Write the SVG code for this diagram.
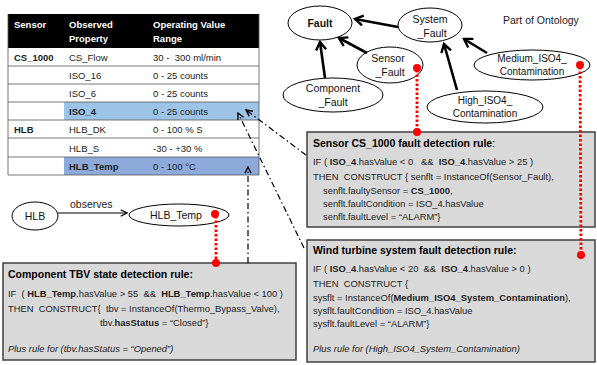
<svg xmlns="http://www.w3.org/2000/svg" width="597" height="365" viewBox="0 0 597 365">
<style>
text{font-family:"Liberation Sans",Arial,sans-serif;font-size:9.5px;fill:#222;white-space:pre}
.b{font-weight:bold}
.i{font-style:italic}
.hd{fill:#fff;font-weight:bold;font-size:9.5px}
.tl{font-size:10.5px;font-weight:bold;fill:#000}
.rl{font-size:9.4px}
.on{font-size:10.5px;text-anchor:middle;fill:#111}
.row{stroke:#555;stroke-width:0.8}
.ell{fill:#fff;stroke:#000;stroke-width:1}
.box{fill:#d9d9d9;stroke:#404040;stroke-width:1.5}
.thick{stroke:#000;stroke-width:2.6;fill:none;marker-end:url(#th)}
.dd{stroke:#000;stroke-width:1.2;fill:none;stroke-dasharray:6,3,1.5,3;marker-end:url(#da)}
.red{stroke:#f00;stroke-width:2.8;fill:none;stroke-dasharray:2.5,2}
.dot{fill:#f00}
</style>
<defs>
<marker id="th" markerUnits="userSpaceOnUse" viewBox="0 0 12 12" refX="10" refY="6" markerWidth="12" markerHeight="12" orient="auto">
<path d="M2,1 L10,6 L2,11" fill="none" stroke="#000" stroke-width="2.4"/>
</marker>
<marker id="da" markerUnits="userSpaceOnUse" viewBox="0 0 10 10" refX="9" refY="5" markerWidth="9" markerHeight="9" orient="auto">
<path d="M2,1.5 L9,5 L2,8.5" fill="none" stroke="#000" stroke-width="1.5"/>
</marker>
<marker id="ob" markerUnits="userSpaceOnUse" viewBox="0 0 10 10" refX="9" refY="5" markerWidth="9" markerHeight="9" orient="auto">
<path d="M2,1.5 L9,5 L2,8.5" fill="none" stroke="#000" stroke-width="1.3"/>
</marker>
</defs>

<g id="table">
<rect x="8" y="14" width="251" height="34" fill="#000"/>
<rect x="64" y="102" width="195" height="18" fill="#9dc3e6"/>
<rect x="64" y="157" width="195" height="18" fill="#8eaadb"/>
<text class="hd" x="14" y="28">Sensor</text>
<text class="hd" x="69" y="28">Observed</text>
<text class="hd" x="69" y="42">Property</text>
<text class="hd" x="153" y="28">Operating Value</text>
<text class="hd" x="153" y="42">Range</text>
<line class="row" x1="8" y1="66" x2="259" y2="66"/>
<line class="row" x1="8" y1="84" x2="259" y2="84"/>
<line class="row" x1="8" y1="102" x2="259" y2="102"/>
<line class="row" x1="8" y1="120" x2="259" y2="120"/>
<line class="row" x1="8" y1="138" x2="259" y2="138"/>
<line class="row" x1="8" y1="157" x2="259" y2="157"/>
<line class="row" x1="8" y1="175" x2="259" y2="175"/>
<line class="row" x1="8" y1="14" x2="8" y2="175"/>
<line class="row" x1="259" y1="14" x2="259" y2="175"/>
<text class="b" x="14" y="61">CS_1000</text>
<text x="69" y="61">CS_Flow</text>
<text x="153" y="61">30 -  300 ml/min</text>
<text x="69" y="79">ISO_16</text>
<text x="153" y="79">0 - 25 counts</text>
<text x="69" y="97">ISO_6</text>
<text x="153" y="97">0 - 25 counts</text>
<text class="b" x="69" y="115">ISO_4</text>
<text x="153" y="115">0 - 25 counts</text>
<text class="b" x="14" y="133">HLB</text>
<text x="69" y="133">HLB_DK</text>
<text x="153" y="133">0 - 100 % S</text>
<text x="69" y="152">HLB_S</text>
<text x="153" y="152">-30 - +30 %</text>
<text class="b" x="69" y="170">HLB_Temp</text>
<text x="153" y="170">0 - 100 °C</text>
</g>

<text x="503" y="24" style="font-size:10.5px">Part of Ontology</text>

<g id="Fault"><ellipse class="ell" cx="320" cy="23" rx="32" ry="17"/><text class="on b" x="320" y="27" style="font-weight:bold">Fault</text></g>
<g id="System_Fault"><ellipse class="ell" cx="430" cy="25" rx="32" ry="17"/><text class="on" x="430" y="23">System</text><text class="on" x="432" y="37">_Fault</text></g>
<g id="Sensor_Fault"><ellipse class="ell" cx="390" cy="65" rx="33" ry="18"/><text class="on" x="388" y="62">Sensor</text><text class="on" x="390" y="76">_Fault</text></g>
<g id="Component_Fault"><ellipse class="ell" cx="333" cy="95" rx="50" ry="17"/><text class="on" x="333" y="92">Component</text><text class="on" x="333" y="106">_Fault</text></g>
<g id="Medium_ISO4_Contamination"><ellipse class="ell" cx="532" cy="65" rx="58" ry="15"/><text class="on" x="532" y="62" style="font-size:10px">Medium_ISO4_</text><text class="on" x="532" y="75" style="font-size:10px">Contamination</text></g>
<g id="High_ISO4_Contamination"><ellipse class="ell" cx="485" cy="107" rx="58" ry="16"/><text class="on" x="485" y="104" style="font-size:10px">High_ISO4_</text><text class="on" x="485" y="117" style="font-size:10px">Contamination</text></g>
<g id="HLB"><ellipse class="ell" cx="35" cy="216" rx="23" ry="14"/><text class="on" x="35" y="220">HLB</text></g>
<g id="HLB_Temp"><ellipse class="ell" cx="179" cy="215" rx="50" ry="11"/><text class="on" x="176" y="219" style="font-size:10.5px">HLB_Temp</text></g>

<g id="sensor_rule">
<rect class="box" x="307" y="132" width="288" height="95"/>
<text class="tl" x="313" y="147">Sensor CS_1000 fault detection rule<tspan style="font-weight:normal">:</tspan></text>
<text class="rl" x="313" y="165">IF ( <tspan class="b">ISO_4</tspan>.hasValue &lt; 0   &amp;&amp;  <tspan class="b">ISO_4</tspan>.hasValue &gt; 25 )</text>
<text class="rl" x="313" y="180">THEN  CONSTRUCT { senflt = InstanceOf(Sensor_Fault),</text>
<text class="rl" x="323" y="194">senflt.faultySensor = <tspan class="b">CS_1000</tspan>,</text>
<text class="rl" x="323" y="207">senflt.faultCondition = ISO_4.hasValue</text>
<text class="rl" x="323" y="220">senflt.faultLevel = “ALARM”}</text>
</g>

<g id="wind_rule">
<rect class="box" x="307" y="240" width="288" height="122"/>
<text class="tl" x="313" y="254">Wind turbine system fault detection rule:</text>
<text class="rl" x="313" y="272">IF ( <tspan class="b">ISO_4</tspan>.hasValue &lt; 20  &amp;&amp;  <tspan class="b">ISO_4</tspan>.hasValue &gt; 0 )</text>
<text class="rl" x="313" y="287">THEN  CONSTRUCT {</text>
<text class="rl" x="313" y="301">sysflt = InstanceOf(<tspan class="b">Medium_ISO4_System_Contamination</tspan>),</text>
<text class="rl" x="313" y="314">sysflt.faultCondition = ISO_4.hasValue</text>
<text class="rl" x="313" y="327">sysflt.faultLevel = “ALARM”}</text>
<text class="rl i" x="313" y="352">Plus rule for (High_ISO4_System_Contamination)</text>
</g>

<g id="component_rule">
<rect class="box" x="3" y="263" width="293" height="97"/>
<text class="tl" x="8" y="278">Component TBV state detection rule:</text>
<text class="rl" x="8" y="297">IF  ( <tspan class="b">HLB_Temp</tspan>.hasValue &gt; 55  &amp;&amp;  <tspan class="b">HLB_Temp</tspan>.hasValue &lt; 100 )</text>
<text class="rl" x="8" y="312">THEN  CONSTRUCT{  tbv = InstanceOf(Thermo_Bypass_Valve),</text>
<text class="rl" x="100" y="326">tbv.<tspan class="b">hasStatus</tspan> = “Closed”}</text>
<text class="rl i" x="8" y="352">Plus rule for (tbv.hasStatus = “Opened”)</text>
</g>

<g id="connectors">
<line class="thick" x1="398" y1="27" x2="355" y2="19"/>
<line class="thick" x1="367" y1="53" x2="339" y2="38"/>
<line class="thick" x1="325" y1="78" x2="320" y2="42"/>
<line class="thick" x1="457" y1="90" x2="444" y2="44"/>
<line class="thick" x1="487" y1="53" x2="464" y2="39"/>
<line x1="58" y1="213" x2="127" y2="213" stroke="#000" stroke-width="1.2" marker-end="url(#ob)"/>
<text x="70" y="208" style="font-size:10.5px">observes</text>
<line class="dd" x1="306" y1="155" x2="246" y2="110"/>
<line class="dd" x1="304" y1="248" x2="238" y2="113"/>
<line class="dd" x1="248" y1="263" x2="248" y2="167"/>
<line class="red" x1="417" y1="70" x2="417" y2="130"/>
<line class="red" x1="580" y1="67" x2="581" y2="253"/>
<line class="red" x1="216" y1="216" x2="216" y2="261"/>
</g>

<g id="red_dots">
<circle class="dot" cx="417" cy="68" r="4"/>
<circle class="dot" cx="417" cy="132" r="4"/>
<circle class="dot" cx="580" cy="65" r="4"/>
<circle class="dot" cx="581" cy="255" r="4"/>
<circle class="dot" cx="215" cy="214" r="4"/>
<circle class="dot" cx="216" cy="263" r="4"/>
</g>
</svg>
